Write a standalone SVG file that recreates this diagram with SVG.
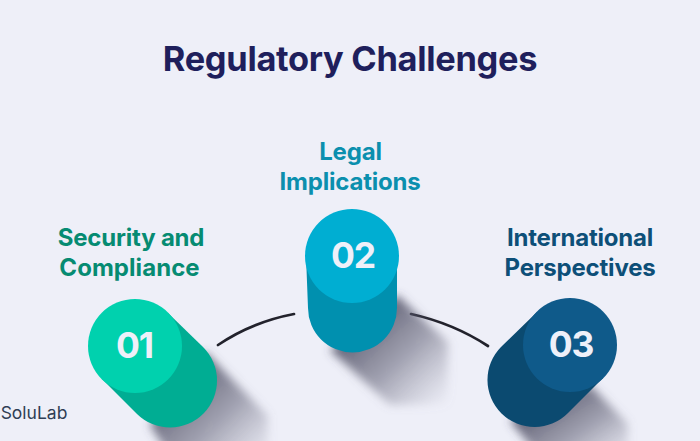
<svg xmlns="http://www.w3.org/2000/svg" width="700" height="441" viewBox="0 0 700 441">
<style>
text{font-family:Inter,"Liberation Sans",sans-serif;text-anchor:middle;font-weight:700}
.lb{font-size:24px;letter-spacing:-.2px}
.num{font-size:35.5px;letter-spacing:-1.2px;fill:#eef0f9}
.cn{fill:none;stroke:#22222c;stroke-width:2.700;stroke-linecap:round}
.sh{fill:url(#sg);filter:url(#bl)}
</style>
<defs>
<linearGradient id="sg" gradientUnits="objectBoundingBox" x1="0.2" y1="0.2" x2="1" y2="1"><stop offset="0" stop-color="#44445a" stop-opacity=".9"/><stop offset=".5" stop-color="#66667a" stop-opacity=".55"/><stop offset="1" stop-color="#8a8a9c" stop-opacity="0"/></linearGradient>
<filter id="bl" x="-20%" y="-20%" width="140%" height="140%"><feGaussianBlur stdDeviation="5"/></filter>
<clipPath id="clipAll"><rect width="700" height="441"/></clipPath>
</defs>
<rect width="700" height="441" fill="#eeeff8"/>
<text id="title" x="350" y="71" font-size="34.4" fill="#1f1f5c" style="letter-spacing:-.3px">Regulatory Challenges</text>
<g id="connectors">
<path class="cn" d="M218 345C240 330 268 319 294 314"/>
<path class="cn" d="M411 314C438 320 465 331 488 346"/>
</g>
<g id="node-01">
<g clip-path="url(#clipAll)"><path class="sh" d="M205 352L268 416L268 465L175 465L150 425Z"/></g>
<path fill="#00ad93" d="M168 313L203 347A47 47 0 0 1 137 414L102 379Z"/>
<circle cx="135" cy="346" r="47" fill="#00d1ae"/>
<text class="num" x="134.500" y="358">01</text>
<text class="lb" x="131" y="246" fill="#068b72">Security and</text>
<text class="lb" x="129.500" y="276" fill="#068b72" style="letter-spacing:.05px">Compliance</text>
</g>
<g id="node-02">
<path class="sh" d="M397 295L448 342L448 405L390 405L330 350Z"/>
<path fill="#0090af" d="M306 256H397V308A44.500 44.500 0 0 1 308 308Z"/>
<circle cx="352" cy="256" r="47" fill="#00aed2"/>
<text class="num" x="353" y="268">02</text>
<text class="lb" x="350.500" y="160" fill="#0b8fae">Legal</text>
<text class="lb" x="350" y="190" fill="#0b8fae">Implications</text>
</g>
<g id="node-03">
<g clip-path="url(#clipAll)"><path class="sh" d="M590 385L628 424L628 465L545 465L510 420Z"/></g>
<path fill="#0b4a70" d="M537 312L603 378L568 413A47 47 0 0 1 501 347Z"/>
<circle cx="570" cy="345" r="47" fill="#0f5a8a"/>
<text class="num" x="571" y="357">03</text>
<text class="lb" x="580" y="246" fill="#0d4f78">International</text>
<text class="lb" x="580" y="276" fill="#0d4f78">Perspectives</text>
</g>
<text id="logo" x="34" y="419" font-size="17.500" fill="#2f3e55" style="font-weight:400">SoluLab</text>
</svg>
